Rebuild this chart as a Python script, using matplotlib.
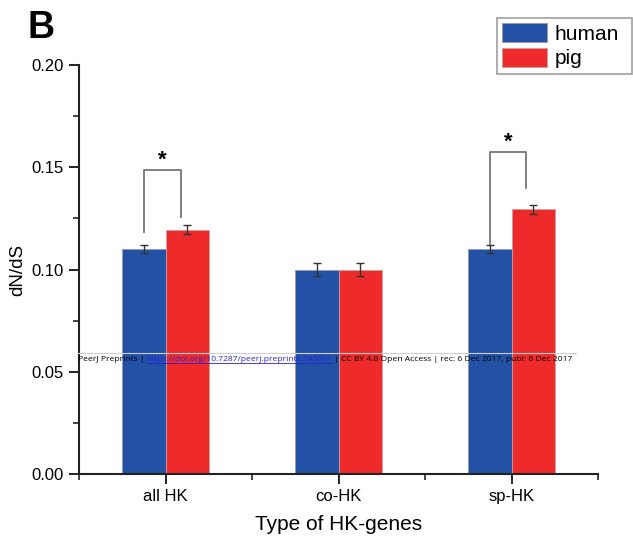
import matplotlib
matplotlib.use("Agg")
import matplotlib.pyplot as plt
import numpy as np
from matplotlib.ticker import MultipleLocator, FixedLocator

plt.rcParams['font.family'] = ['Liberation Sans', 'DejaVu Sans']

categories = ["all HK", "co-HK", "sp-HK"]
human = [0.110, 0.100, 0.110]
pig = [0.1195, 0.100, 0.1295]
human_err = [0.002, 0.003, 0.002]
pig_err = [0.0022, 0.003, 0.0023]
series_names = ["human", "pig"]
yticks = [0.00, 0.05, 0.10, 0.15, 0.20]

blue = "#2351A6"
red = "#EE2A2A"

fig = plt.figure(figsize=(6.33, 5.38), dpi=100)
ax = fig.add_axes([0.1248, 0.119, 0.82, 0.760])

x = np.arange(1, len(categories) + 1)
w = 0.25
ax.bar(x - w / 2, human, w, color=blue, edgecolor="#9a9aa8", linewidth=0.6,
       yerr=human_err, capsize=3, error_kw=dict(ecolor="#333333", elinewidth=1, capthick=1),
       label=series_names[0], zorder=2)
ax.bar(x + w / 2, pig, w, color=red, edgecolor="#c8a0a0", linewidth=0.6,
       yerr=pig_err, capsize=3, error_kw=dict(ecolor="#333333", elinewidth=1, capthick=1),
       label=series_names[1], zorder=2)

ax.set_xlim(0.5, 3.5)
ax.set_ylim(0, 0.2)
ax.set_xticks(x)
ax.set_xticklabels(categories, fontsize=12)
ax.xaxis.set_minor_locator(FixedLocator([0.5, 1.5, 2.5, 3.5]))
ax.set_yticks(yticks)
ax.set_yticklabels([f"{v:.2f}" for v in yticks], fontsize=12)
ax.yaxis.set_minor_locator(MultipleLocator(0.025))
ax.tick_params(axis="both", which="major", length=7, width=1.4, color="#222222", direction="out", pad=4)
ax.tick_params(axis="both", which="minor", length=4, width=1.2, color="#222222", direction="out")
for s in ["top", "right"]:
    ax.spines[s].set_visible(False)
for s in ["left", "bottom"]:
    ax.spines[s].set_linewidth(1.5)
    ax.spines[s].set_color("#222222")

ax.set_ylabel("dN/dS", fontsize=13.5, labelpad=4)
ax.set_xlabel("Type of HK-genes", fontsize=15, labelpad=8)

# significance brackets
def bracket(xl, xr, yl, yr, ytop, ystar):
    ax.plot([xl, xl, xr, xr], [yl, ytop, ytop, yr], color="#777777", lw=1.3, zorder=3)
    ax.text((xl + xr) / 2, ystar, "*", ha="center", va="center", fontsize=16, fontweight="bold")

bracket(1 - w / 2, 1 + 0.09, 0.1185, 0.1255, 0.1485, 0.1535)
bracket(3 - w / 2, 3 + 0.085, 0.1123, 0.1400, 0.1575, 0.1625)

# legend
leg = fig.legend(loc="upper left", bbox_to_anchor=(0.785, 0.8645, 0.213, 0.102), mode="expand",
                 fontsize=15, frameon=True, fancybox=False, edgecolor="#888888",
                 handlelength=2.15, handleheight=1.0, handletextpad=0.35,
                 labelspacing=0.2, borderpad=0.25, borderaxespad=0)
leg.get_frame().set_linewidth(1.2)

fig.text(0.043, 0.948, "B", fontsize=27, fontweight="bold", va="center", ha="left")

# watermark
wm_fs = 6.1
wm_y = 1 - 361 / 538
wm_font = ["Open Sans", "DejaVu Sans"]
fig.add_artist(plt.Line2D([0.122, 0.91], [1 - 353 / 538] * 2, transform=fig.transFigure,
                          color="#d0d0d0", lw=0.8, zorder=4))
t1 = fig.text(0.123, wm_y, "PeerJ Preprints | ", fontsize=wm_fs, family=wm_font,
              va="baseline", ha="left", zorder=5)
t2 = fig.text(0, wm_y, "https://doi.org/10.7287/peerj.preprints.3450v1", fontsize=wm_fs,
              family=wm_font, color="#2222dd", va="baseline", ha="left", zorder=5)
fig.canvas.draw()
r = fig.canvas.get_renderer()
inv = fig.transFigure.inverted()
bb1 = t1.get_window_extent(r)
x2 = inv.transform((bb1.x1, 0))[0]
t2.set_position((x2, wm_y))
fig.canvas.draw()
bb2 = t2.get_window_extent(r)
x3 = inv.transform((bb2.x1, 0))[0]
fig.add_artist(plt.Line2D([x2, x3], [wm_y - 1.8 / 538] * 2, transform=fig.transFigure,
                          color="#2222dd", lw=0.6, zorder=5))
fig.text(x3, wm_y, " | CC BY 4.0 Open Access | rec: 6 Dec 2017, publ: 6 Dec 2017",
         fontsize=wm_fs, family=wm_font, va="baseline", ha="left", zorder=5)

fig.savefig("out.png", dpi=100)
